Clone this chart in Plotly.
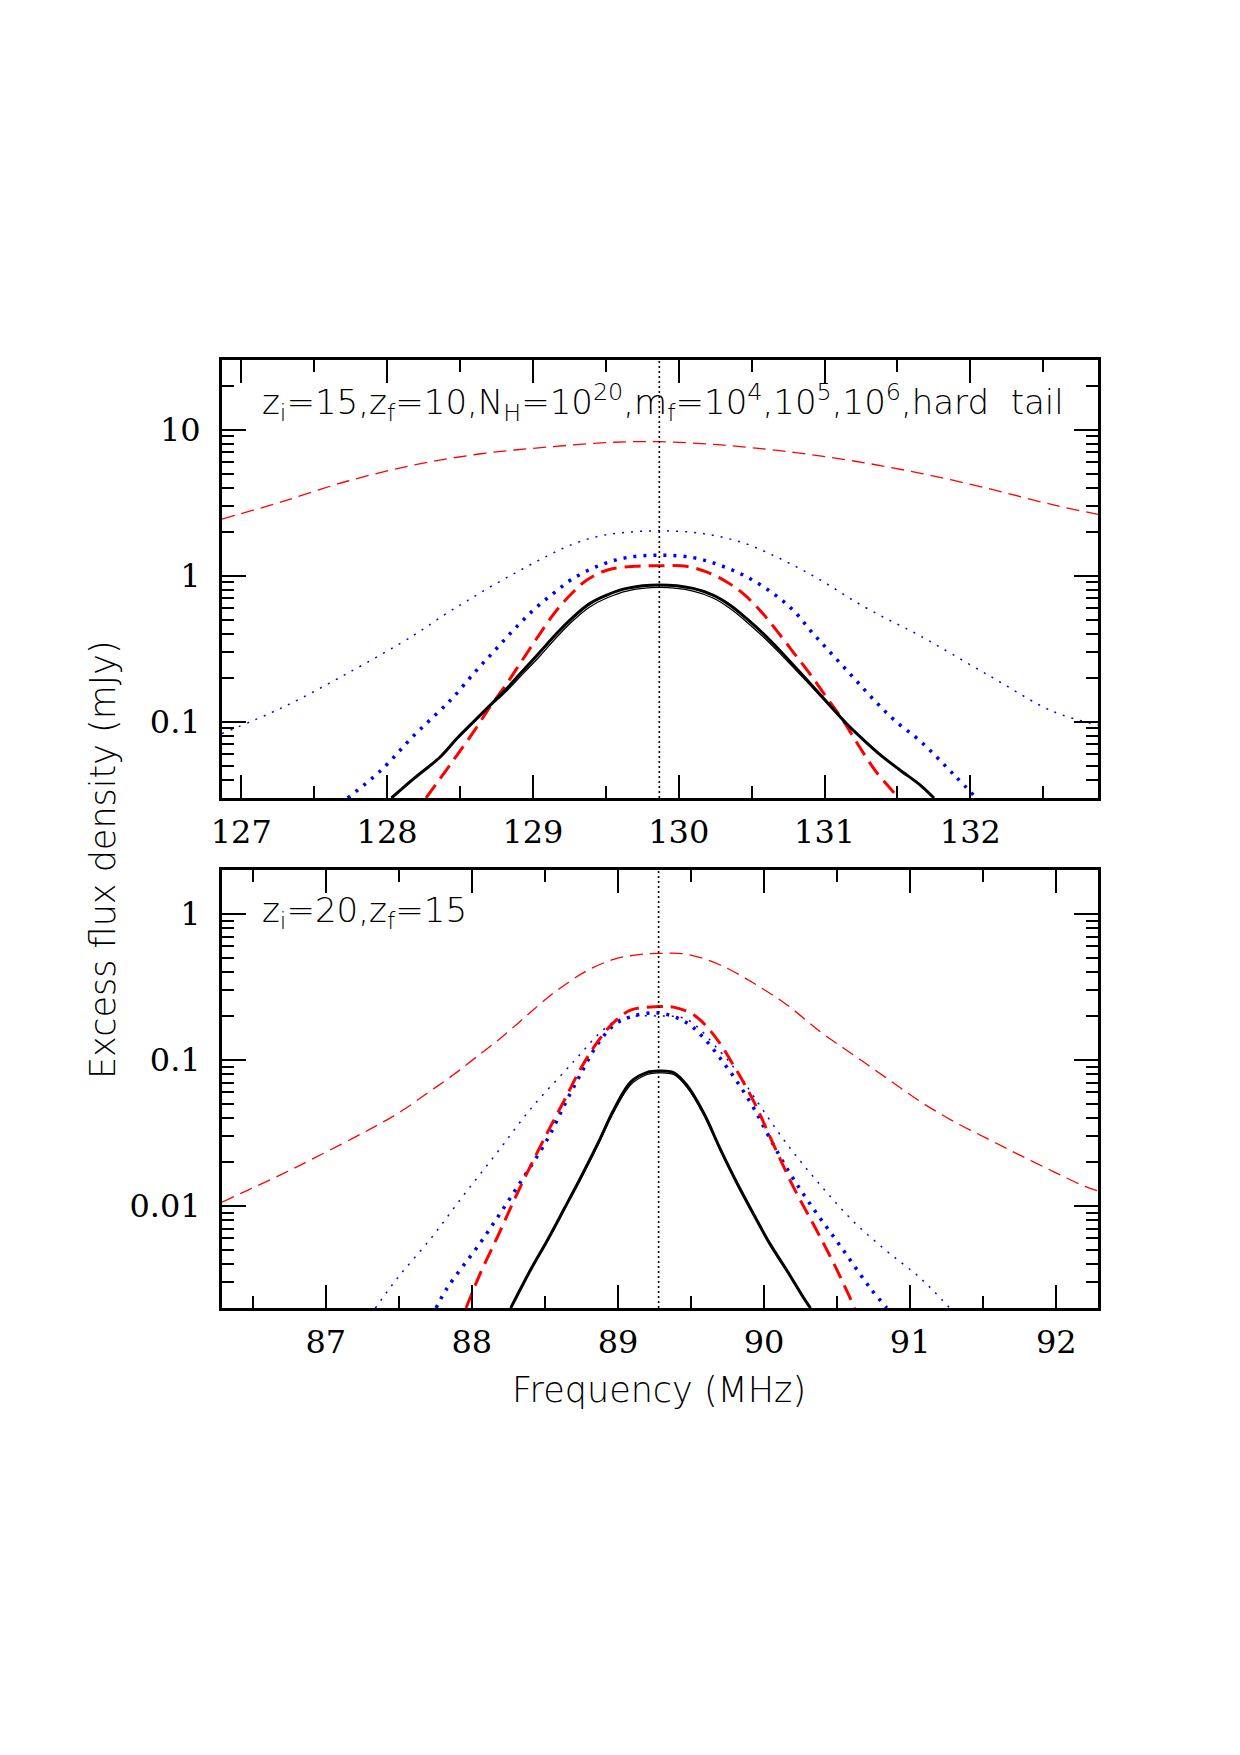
import math
import plotly.graph_objects as go

# ---------------- data ----------------
# Top panel: z_i=15, z_f=10
top_center = 129.867
top_red_thin_x = [126.868, 127.275, 127.731, 128.187, 128.644, 129.1, 129.56, 129.867,
                  130.29, 130.745, 131.2, 131.66, 132.12, 132.57, 132.875]
top_red_thin_y = [2.44, 3.2, 4.45, 5.73, 6.84, 7.6, 8.2, 8.27,
                  7.86, 7.07, 6.1, 5.02, 3.96, 3.05, 2.63]

top_blue_thin_x = [126.868, 127.275, 127.731, 128.187, 128.39, 128.549, 128.73, 128.913, 129.096,
                   129.278, 129.46, 129.643, 129.867, 130.098, 130.281, 130.464, 130.646, 130.828,
                   131.011, 131.193, 131.376, 131.512, 131.66, 132.12, 132.57, 132.875]
top_blue_thin_y = [0.083, 0.124, 0.215, 0.393, 0.537, 0.673, 0.863, 1.09, 1.36,
                   1.65, 1.87, 1.98, 2.03, 1.98, 1.85, 1.65, 1.38, 1.12,
                   0.885, 0.68, 0.537, 0.459, 0.385, 0.209, 0.117, 0.095]

top_blue_thick_x = [127.73, 127.96, 128.187, 128.366, 128.457, 128.594, 128.73, 128.867, 129.004,
                    129.141, 129.278, 129.46, 129.643, 129.867, 130.098, 130.281, 130.464, 130.646,
                    130.783, 130.92, 131.056, 131.193, 131.33, 131.478, 131.66, 131.89, 132.04]
top_blue_thick_y = [0.03, 0.0466, 0.081, 0.12, 0.148, 0.214, 0.301, 0.424, 0.582,
                    0.757, 0.96, 1.18, 1.33, 1.38, 1.33, 1.18, 0.984, 0.757,
                    0.582, 0.403, 0.286, 0.203, 0.144, 0.1025, 0.073, 0.043, 0.03]

top_red_thick_x = [128.267, 128.39, 128.48, 128.594, 128.708, 128.822, 128.936, 129.05, 129.164,
                   129.278, 129.37, 129.506, 129.7, 129.867, 130.053, 130.19, 130.327, 130.44,
                   130.555, 130.669, 130.783, 130.897, 131.011, 131.125, 131.239, 131.353,
                   131.478, 131.5]
top_red_thick_y = [0.03, 0.0443, 0.0591, 0.0854, 0.127, 0.183, 0.272, 0.403, 0.582,
                   0.776, 0.933, 1.09, 1.16, 1.17, 1.16, 1.06, 0.908, 0.756,
                   0.582, 0.424, 0.301, 0.214, 0.148, 0.1025, 0.0673, 0.0455,
                   0.0324, 0.03]

top_black_x = [128.03, 128.187, 128.366, 128.48, 128.594, 128.708, 128.822, 128.936, 129.05,
               129.164, 129.278, 129.392, 129.506, 129.643, 129.867, 130.098, 130.235, 130.35,
               130.464, 130.577, 130.69, 130.806, 130.92, 131.034, 131.148, 131.261, 131.376,
               131.512, 131.66, 131.75]
top_black_thick_y = [0.03, 0.041, 0.0575, 0.0769, 0.100, 0.130, 0.169, 0.226, 0.301,
                     0.403, 0.523, 0.646, 0.736, 0.818, 0.863, 0.818, 0.736, 0.630,
                     0.510, 0.403, 0.310, 0.232, 0.174, 0.130, 0.0975, 0.0760, 0.0600,
                     0.0470, 0.0365, 0.03]
top_black_thin_y = [0.03, 0.041, 0.0575, 0.0769, 0.100, 0.128, 0.163, 0.215, 0.283,
                    0.380, 0.495, 0.613, 0.703, 0.785, 0.83, 0.785, 0.703, 0.598,
                    0.484, 0.383, 0.296, 0.224, 0.170, 0.128, 0.0965, 0.0755, 0.0600,
                    0.0470, 0.0365, 0.03]

# Bottom panel: z_i=20, z_f=15
bot_center = 89.278
bot_red_thin_x = [86.29, 86.468, 86.65, 86.833, 87.197, 87.38, 87.516, 87.698, 87.88, 88.063,
                  88.2, 88.36, 88.52, 88.655, 88.79, 88.976, 89.157, 89.278, 89.47, 89.70,
                  89.93, 90.157, 90.385, 90.613, 90.84, 91.07, 91.30, 91.524, 91.75, 91.98,
                  92.2, 92.285]
bot_red_thin_y = [0.0106, 0.01285, 0.0156, 0.0192, 0.0295, 0.0370, 0.0445, 0.0595, 0.080, 0.111,
                  0.142, 0.195, 0.268, 0.337, 0.410, 0.491, 0.529, 0.537, 0.53, 0.447,
                  0.335, 0.238, 0.156, 0.108, 0.0749, 0.0518, 0.0378, 0.029, 0.0223, 0.0172,
                  0.01355, 0.0127]

bot_red_thick_x = [87.96, 88.063, 88.177, 88.29, 88.405, 88.52, 88.633, 88.747, 88.86, 88.976,
                   89.09, 89.278, 89.38, 89.52, 89.656, 89.79, 89.93, 90.066, 90.2, 90.34,
                   90.476, 90.62]
bot_red_thick_y = [0.002, 0.00355, 0.0062, 0.01100, 0.0191, 0.0323, 0.0530, 0.0880, 0.133, 0.183,
                   0.220, 0.232, 0.23, 0.203, 0.148, 0.0922, 0.0518, 0.0261, 0.0135, 0.0074,
                   0.00405, 0.002]

bot_blue_thick_x = [87.755, 87.83, 88.063, 88.29, 88.52, 88.633, 88.747, 88.86, 88.976, 89.09,
                    89.278, 89.47, 89.588, 89.70, 89.815, 89.93, 90.04, 90.157, 90.27, 90.385,
                    90.5, 90.613, 90.727, 90.84]
bot_blue_thick_y = [0.002, 0.00273, 0.00569, 0.0125, 0.029, 0.049, 0.081, 0.128, 0.174, 0.198,
                    0.21, 0.18, 0.141, 0.1025, 0.071, 0.0466, 0.029, 0.0180, 0.0120, 0.0082,
                    0.0057, 0.00394, 0.00273, 0.002]

bot_blue_thin_x = [87.34, 87.49, 87.72, 87.945, 88.177, 88.405, 88.633, 88.747, 88.86, 88.976,
                   89.09, 89.278, 89.47, 89.70, 89.815, 89.93, 90.157, 90.385, 90.613, 90.84,
                   91.07, 91.27]
bot_blue_thin_y = [0.002, 0.0032, 0.006, 0.0119, 0.0235, 0.0466, 0.083, 0.111, 0.148, 0.183,
                   0.198, 0.20, 0.19, 0.114, 0.083, 0.0560, 0.0265, 0.0139, 0.0078, 0.0049,
                   0.00320, 0.002]

bot_black_x = [88.266, 88.405, 88.52, 88.633, 88.747, 88.86, 88.976, 89.09, 89.2, 89.278,
               89.38, 89.47, 89.588, 89.70, 89.815, 89.93, 90.04, 90.157, 90.27, 90.317]
bot_black_thick_y = [0.002, 0.00370, 0.0059, 0.0096, 0.0158, 0.0265, 0.0466, 0.071, 0.0822, 0.084,
                     0.082, 0.0673, 0.0430, 0.0245, 0.0143, 0.0087, 0.0055, 0.0036, 0.00235, 0.002]
bot_black_thin_y = [0.002, 0.00370, 0.0059, 0.0096, 0.0155, 0.0259, 0.0450, 0.068, 0.0795, 0.0815,
                    0.0795, 0.0655, 0.0422, 0.0242, 0.0142, 0.0087, 0.0055, 0.0036, 0.00235, 0.002]

top_xticks = [127, 128, 129, 130, 131, 132]
bot_xticks = [87, 88, 89, 90, 91, 92]
top_yticks = [0.1, 1, 10]
top_yticktext = ["0.1", "1", "10"]
bot_yticks = [0.01, 0.1, 1]
bot_yticktext = ["0.01", "0.1", "1"]

top_xrange = [126.868, 132.875]
bot_xrange = [86.29, 92.285]
top_yrange = [0.03, 30]
bot_yrange = [0.002, 2]

# ---------------- figure ----------------
RED = "rgb(255,0,0)"
BLUE = "rgb(0,0,255)"
BLACK = "black"

fig = go.Figure()


def add(x, y, color, width, dash, axes):
    xa, ya = axes
    fig.add_trace(go.Scatter(x=x, y=y, mode="lines", xaxis=xa, yaxis=ya,
                             line=dict(color=color, width=width, dash=dash, shape="spline", smoothing=1.0),
                             showlegend=False, hoverinfo="skip"))


# top panel
add(top_red_thin_x, top_red_thin_y, RED, 1.3, "13px,7px", ("x", "y"))
add(top_blue_thin_x, top_blue_thin_y, BLUE, 1.5, "2px,7px", ("x", "y"))
add(top_blue_thick_x, top_blue_thick_y, BLUE, 3.5, "3px,7px", ("x", "y"))
add(top_red_thick_x, top_red_thick_y, RED, 3, "16px,8px", ("x", "y"))
add(top_black_x, top_black_thick_y, BLACK, 3, "solid", ("x", "y"))
add(top_black_x, top_black_thin_y, BLACK, 1.3, "solid", ("x", "y"))

# bottom panel
add(bot_red_thin_x, bot_red_thin_y, RED, 1.3, "13px,7px", ("x2", "y2"))
add(bot_blue_thin_x, bot_blue_thin_y, BLUE, 1.5, "2px,7px", ("x2", "y2"))
add(bot_blue_thick_x, bot_blue_thick_y, BLUE, 3.5, "3px,7px", ("x2", "y2"))
add(bot_red_thick_x, bot_red_thick_y, RED, 3, "16px,8px", ("x2", "y2"))
add(bot_black_x, bot_black_thick_y, BLACK, 3, "solid", ("x2", "y2"))
add(bot_black_x, bot_black_thin_y, BLACK, 1.3, "solid", ("x2", "y2"))

# vertical dotted lines at line centre
for xref, yref, c in (("x", "y domain", top_center), ("x2", "y2 domain", bot_center)):
    fig.add_shape(type="line", xref=xref, yref=yref, x0=c, x1=c, y0=0, y1=1,
                  line=dict(color=BLACK, width=1.6, dash="2px,3px"), layer="above")

tickfont = dict(family="DejaVu Serif", size=32, color=BLACK)


def minor_log(lo, hi):
    vals = []
    for e in range(int(math.floor(math.log10(lo))), int(math.ceil(math.log10(hi))) + 1):
        for m in range(2, 10):
            v = m * 10 ** e
            if lo <= v <= hi:
                vals.append(v)
    return vals


def xaxis(rng, ticks, anchor):
    return dict(range=rng, tickmode="array", tickvals=ticks, ticktext=[str(t) for t in ticks],
                ticks="inside", ticklen=23, tickwidth=1.8, tickcolor=BLACK,
                showline=True, linewidth=2.8, linecolor=BLACK, mirror="ticks",
                showgrid=False, zeroline=False, tickfont=tickfont, anchor=anchor,
                ticklabelstandoff=4,
                minor=dict(tickmode="array",
                           tickvals=[t + 0.5 for t in range(int(rng[0]) - 1, int(rng[1]) + 1)],
                           ticks="inside", ticklen=12, tickwidth=1.8, tickcolor=BLACK, showgrid=False))


def yaxis(rng, ticks, text, domain, anchor):
    return dict(type="log", range=[math.log10(rng[0]), math.log10(rng[1])], domain=domain,
                tickmode="array", tickvals=ticks, ticktext=text,
                ticks="inside", ticklen=24, tickwidth=1.8, tickcolor=BLACK,
                showline=True, linewidth=2.8, linecolor=BLACK, mirror="ticks",
                showgrid=False, zeroline=False, tickfont=tickfont, anchor=anchor,
                ticklabelstandoff=12,
                minor=dict(tickmode="array", tickvals=minor_log(rng[0], rng[1]),
                           ticks="inside", ticklen=12, tickwidth=1.8, tickcolor=BLACK, showgrid=False))


W, H = 1240, 1755
L, R, T, B = 222, 142, 360, 447
PH = H - T - B  # plot-area height in px


def py(pix):
    return (H - B - pix) / PH


def px(pix):
    return (pix - L) / (W - L - R)


fig.update_layout(
    width=W, height=H, autosize=False,
    margin=dict(l=L, r=R, t=T, b=B, pad=0),
    paper_bgcolor="white", plot_bgcolor="white",
    xaxis=xaxis(top_xrange, top_xticks, "y"),
    yaxis=yaxis(top_yrange, top_yticks, top_yticktext, [py(798), 1.0], "x"),
    xaxis2=xaxis(bot_xrange, bot_xticks, "y2"),
    yaxis2=yaxis(bot_yrange, bot_yticks, bot_yticktext, [0.0, py(870)], "x2"),
)

label_font = dict(family="DejaVu Sans", size=34, color=BLACK, weight=200)
title_font = dict(family="DejaVu Sans", size=35, color=BLACK, weight=200)
fig.add_annotation(xref="paper", yref="paper", x=px(260), y=py(403), xanchor="left", yanchor="middle",
                   text="z<sub>i</sub>=15,z<sub>f</sub>=10,N<sub>H</sub>=10<sup>20</sup>,m<sub>f</sub>=10<sup>4</sup>,10<sup>5</sup>,10<sup>6</sup>,hard  tail",
                   showarrow=False, font=label_font)
fig.add_annotation(xref="paper", yref="paper", x=px(260), y=py(913), xanchor="left", yanchor="middle",
                   text="z<sub>i</sub>=20,z<sub>f</sub>=15",
                   showarrow=False, font=label_font)
fig.add_annotation(xref="paper", yref="paper", x=px(103), y=py(860), textangle=-90,
                   xanchor="center", yanchor="middle",
                   text="Excess flux density (mJy)", showarrow=False, font=title_font)
fig.add_annotation(xref="paper", yref="paper", x=px(659), y=py(1390),
                   xanchor="center", yanchor="middle",
                   text="Frequency (MHz)", showarrow=False, font=title_font)

fig.write_html("out.html")
